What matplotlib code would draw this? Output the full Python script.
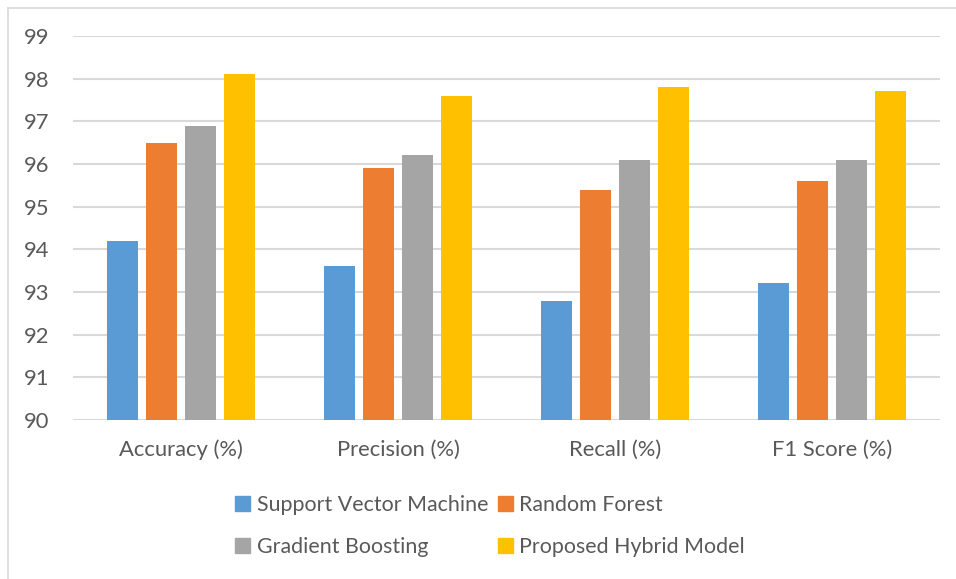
import numpy as np
import matplotlib.pyplot as plt
from matplotlib.lines import Line2D
from matplotlib.patches import Patch

# метрики і моделі
metrics = ["Accuracy (%)", "Precision (%)", "Recall (%)", "F1 Score (%)"]
models = ["Support Vector Machine", "Random Forest", "Gradient Boosting", "Proposed Hybrid Model"]
svm = [94.2, 93.6, 92.8, 93.2]
rf = [96.5, 95.9, 95.4, 95.6]
gb = [96.9, 96.2, 96.1, 96.1]
hybrid = [98.1, 97.6, 97.8, 97.7]
colors = ["#5B9BD5", "#ED7D31", "#A5A5A5", "#FFC000"]

plt.rcParams["font.family"] = ["Lato", "DejaVu Sans"]
text_col = "#595959"
grid_col = "#D9D9D9"

W, H = 956, 579
fig = plt.figure(figsize=(W / 100, H / 100), dpi=100)

# рамка області діаграми
fig.add_artist(Line2D([8 / W, 8 / W], [0, 1 - 8 / H], color=grid_col, lw=1.2))
fig.add_artist(Line2D([8 / W, 1], [1 - 8 / H, 1 - 8 / H], color=grid_col, lw=1.2))

ax = fig.add_axes([73 / W, 1 - 420 / H, (940 - 73) / W, (420 - 36) / H])

x = np.arange(len(metrics))
width = 0.143
step = 0.18
series = [svm, rf, gb, hybrid]
for i, vals in enumerate(series):
    ax.bar(x + (i - 1.5) * step, np.array(vals) - 90, bottom=90, width=width,
           color=colors[i], label=models[i], zorder=3)

ax.set_xlim(-0.5, len(metrics) - 0.5)
ax.set_ylim(90, 99)
ax.set_yticks(range(90, 100))
ax.set_xticks(x)
ax.set_xticklabels(metrics)
ax.yaxis.grid(True, color=grid_col, lw=1.5, zorder=0)
for s in ax.spines.values():
    s.set_visible(False)
ax.tick_params(axis="both", length=0, colors=text_col, labelsize=15.8)
ax.tick_params(axis="y", pad=17)
ax.tick_params(axis="x", pad=14)

handles = [Patch(color=colors[i]) for i in range(4)]
order = [0, 2, 1, 3]
fig.legend([handles[i] for i in order], [models[i] for i in order],
           ncol=2, loc="center", bbox_to_anchor=(490 / W, 1 - 526 / H),
           frameon=False, fontsize=15.4, labelcolor=text_col,
           handlelength=0.7, handleheight=0.7, handletextpad=0.3,
           columnspacing=0.45, labelspacing=1.05)

fig.savefig("out.png", dpi=100, facecolor="white")
